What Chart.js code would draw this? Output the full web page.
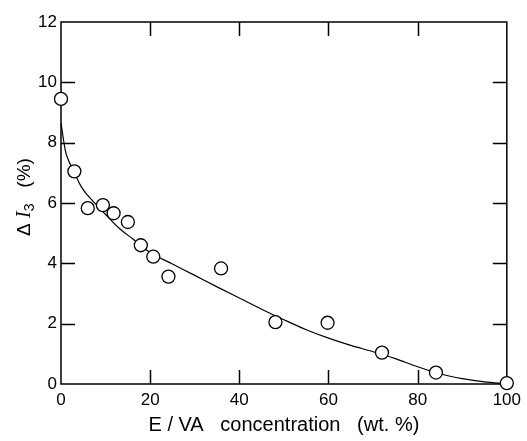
<!DOCTYPE html>
<html>
<head>
<meta charset="utf-8">
<script src="https://cdn.jsdelivr.net/npm/chart.js@4.4.0/dist/chart.umd.min.js"></script>
<style>
  html, body { margin: 0; padding: 0; background: #fff; }
  canvas { display: block; }
</style>
</head>
<body>
<canvas id="chartI3" width="527" height="441"></canvas>
<script>
// Measured points: E/VA concentration (wt. %) vs Delta I3 (%)
const concX = [0, 3, 6, 9.4, 11.8, 15, 17.9, 20.7, 24.1, 35.9, 48.1, 59.8, 72, 84.1, 100];
const deltaI3 = [9.45, 7.05, 5.83, 5.93, 5.66, 5.37, 4.6, 4.22, 3.56, 3.83, 2.05, 2.03, 1.04, 0.38, 0.03];

// Fitted curve
const fitX = [0, 1, 2, 3, 4.5, 6, 8, 10, 13, 16, 20, 25, 30, 35, 40, 45, 50, 55, 60, 65, 70, 75, 80, 85, 90, 95, 100];
const fitY = [8.65, 7.72, 7.31, 7.0, 6.55, 6.25, 5.93, 5.62, 5.17, 4.82, 4.36, 3.98, 3.6, 3.22, 2.85, 2.48, 2.13, 1.8, 1.52, 1.28, 1.07, 0.84, 0.57, 0.34, 0.18, 0.07, 0.01];

// Tick labels
const xTicks = [0, 20, 40, 60, 80, 100];
const yTicks = [0, 2, 4, 6, 8, 10, 12];

const FONT = "'Liberation Sans', Arial, Helvetica, sans-serif";

// Box around the plot with inward tick marks on all four sides
const frameTicks = {
  id: 'frameTicks',
  beforeDatasetsDraw(chart) {
    const { ctx, chartArea: a, scales } = chart;
    const len = 14;
    ctx.save();
    ctx.strokeStyle = '#000';
    ctx.lineWidth = 1.5;
    ctx.strokeRect(a.left, a.top, a.right - a.left, a.bottom - a.top);
    ctx.beginPath();
    xTicks.slice(1, -1).forEach((v) => {
      const px = Math.round(scales.x.getPixelForValue(v)) + 0.5;
      ctx.moveTo(px, a.bottom);
      ctx.lineTo(px, a.bottom - len);
      ctx.moveTo(px, a.top);
      ctx.lineTo(px, a.top + len);
    });
    yTicks.slice(1, -1).forEach((v) => {
      const py = Math.round(scales.y.getPixelForValue(v)) + 0.5;
      ctx.moveTo(a.left, py);
      ctx.lineTo(a.left + len, py);
      ctx.moveTo(a.right, py);
      ctx.lineTo(a.right - len, py);
    });
    ctx.stroke();
    ctx.restore();
  },
};

// Rotated y title: Δ I(italic) 3(subscript)  (%)
const yTitle = {
  id: 'yTitle',
  afterDraw(chart) {
    const { ctx } = chart;
    const parts = [
      { t: 'Δ', f: '19px ' + FONT, dy: 0 },
      { t: ' ', f: '19px ' + FONT, dy: 0 },
      { t: 'I', f: 'italic 20px "Liberation Serif", "Times New Roman", serif', dy: 0 },
      { t: '3', f: '14px ' + FONT, dy: 5 },
      { t: '   (%)', f: '19px ' + FONT, dy: 0 },
    ];
    ctx.save();
    let total = 0;
    parts.forEach((p) => {
      ctx.font = p.f;
      p.w = ctx.measureText(p.t).width;
      total += p.w;
    });
    ctx.translate(25, 197);
    ctx.rotate(-Math.PI / 2);
    ctx.fillStyle = '#000';
    ctx.textBaseline = 'middle';
    let x = -total / 2;
    parts.forEach((p) => {
      ctx.font = p.f;
      ctx.fillText(p.t, x, p.dy);
      x += p.w;
    });
    ctx.restore();
  },
};

const ctx = document.getElementById('chartI3').getContext('2d');
const chartI3 = new Chart(ctx, {
  type: 'scatter',
  data: {
    datasets: [
      {
        label: 'measured',
        data: concX.map((x, i) => ({ x: x, y: deltaI3[i] })),
        pointRadius: 6.5,
        pointBorderWidth: 1.3,
        pointBackgroundColor: '#fff',
        pointBorderColor: '#000',
        showLine: false,
        clip: false,
      },
      {
        label: 'fit',
        data: fitX.map((x, i) => ({ x: x, y: fitY[i] })),
        showLine: true,
        borderColor: '#000',
        borderWidth: 1.2,
        pointRadius: 0,
        cubicInterpolationMode: 'monotone',
        clip: false,
      },
    ],
  },
  options: {
    responsive: false,
    animation: false,
    layout: { padding: { top: 22, right: 16, left: 0, bottom: 0 } },
    plugins: {
      legend: { display: false },
      tooltip: { enabled: false },
    },
    scales: {
      x: {
        type: 'linear',
        min: 0,
        max: 100,
        afterBuildTicks: (s) => { s.ticks = xTicks.map((v) => ({ value: v })); },
        afterFit: (s) => { s.height = 57; },
        grid: { display: false, drawTicks: false },
        border: { display: false },
        ticks: { color: '#000', padding: 6, maxRotation: 0, font: { family: FONT, size: 17 } },
        title: {
          display: true,
          text: 'E / VA   concentration   (wt. %)',
          color: '#000',
          font: { family: FONT, size: 20 },
          padding: { top: 0, bottom: 4 },
        },
      },
      y: {
        type: 'linear',
        min: 0,
        max: 12,
        afterBuildTicks: (s) => { s.ticks = yTicks.map((v) => ({ value: v })); },
        afterFit: (s) => { s.width = 61; },
        grid: { display: false, drawTicks: false },
        border: { display: false },
        ticks: { color: '#000', padding: 4, font: { family: FONT, size: 17 } },
      },
    },
  },
  plugins: [frameTicks, yTitle],
});
</script>
</body>
</html>
